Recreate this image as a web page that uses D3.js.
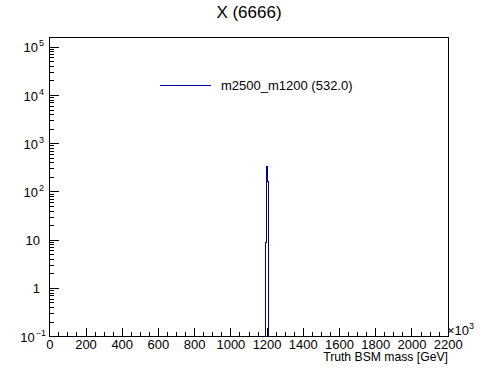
<!DOCTYPE html>
<html><head><meta charset="utf-8">
<script src="https://cdn.jsdelivr.net/npm/d3@7"></script>
<style>
html,body{margin:0;padding:0;background:#fff;}
svg{display:block;font-family:"Liberation Sans",Arial,Helvetica,sans-serif;}
</style></head>
<body><svg id="c" width="498" height="374"></svg>
<script>
// ---- data ----
const chartTitle = "X (6666)";
const seriesName = "m2500_m1200 (532.0)";
const xTitle = "Truth BSM mass [GeV]";
const binWidth = 5;
const binLow = [1190, 1195, 1200, 1205];
const counts = [9, 335, 164, 24];
const xMajorTicks = [0,200,400,600,800,1000,1200,1400,1600,1800,2000,2200];
const yDecadeTicks = [0.1, 1, 10, 100, 1000, 10000, 100000];
const yTickBase = ["10", "1", "10", "10", "10", "10", "10"];
const yTickExp  = ["\u22121", "", "", "2", "3", "4", "5"];

// ---- layout ----
const L = 49.8, R = 448.2, T = 37.4, B = 336.6;
const lineColor = "#00009c";
const svg = d3.select("#c");
const x = d3.scaleLinear().domain([0, 2200]).range([L, R]);
const y = d3.scaleLog().domain([0.1, Math.pow(10, 5.205)]).range([B, T]);
const px = v => Math.round(v - 0.5) + 0.5;

// frame
svg.append("rect").attr("x", 49.5).attr("y", 37.5).attr("width", 399).attr("height", 299)
  .attr("fill", "none").attr("stroke", "#000").attr("stroke-width", 1).attr("shape-rendering", "crispEdges");

// x ticks
const xMinor = d3.range(0, 2200 + 1, 50);
const gx = svg.append("g").attr("shape-rendering", "crispEdges");
xMinor.forEach(v => {
  const major = v % 200 === 0;
  gx.append("line").attr("x1", px(x(v))).attr("x2", px(x(v)))
    .attr("y1", 336.5).attr("y2", 336.5 - (major ? 9 : 4.5))
    .attr("stroke", "#000").attr("stroke-width", 1);
});
xMajorTicks.forEach(v => {
  svg.append("text").attr("x", x(v)).attr("y", 348.5).attr("text-anchor", "middle")
    .attr("font-size", 13).text(v);
});
// x10^3 exponent
const ex = svg.append("text").attr("x", 447).attr("y", 335).attr("font-size", 13);
ex.append("tspan").text("\u00d710");
ex.append("tspan").attr("font-size", 9).attr("dy", -6).text("3");

// x title
svg.append("text").attr("x", 448).attr("y", 361).attr("text-anchor", "end")
  .attr("font-size", 12.2).text(xTitle);

// y ticks
const gy = svg.append("g").attr("shape-rendering", "crispEdges");
const [yLo, yHi] = y.domain();
for (let e = -1; e <= 5; e++) {
  for (let m = 1; m <= 9; m++) {
    const v = m * Math.pow(10, e);
    if (v < yLo || v > yHi) continue;
    const yy = px(y(v));
    gy.append("line").attr("x1", 49.5).attr("x2", 49.5 + (m === 1 ? 9 : 4.5))
      .attr("y1", yy).attr("y2", yy).attr("stroke", "#000").attr("stroke-width", 1);
  }
}
yDecadeTicks.forEach((v, i) => {
  const t = svg.append("text").attr("y", y(v) + 5).attr("font-size", 13)
    .attr("text-anchor", "end");
  if (yTickExp[i] === "") {
    t.attr("x", 40).text(yTickBase[i]);
  } else {
    t.attr("x", yTickExp[i].length > 1 ? 46 : 44);
    t.append("tspan").text(yTickBase[i]);
    t.append("tspan").attr("font-size", 9).attr("dy", -6).attr("dx", 1).text(yTickExp[i]);
  }
});

// histogram
const pts = [[x(binLow[0]), B]];
binLow.forEach((b, i) => {
  pts.push([x(b), y(counts[i])]);
  pts.push([x(b + binWidth), y(counts[i])]);
});
pts.push([x(binLow[binLow.length - 1] + binWidth), B]);
svg.append("path").attr("d", d3.line()(pts)).attr("fill", "none")
  .attr("stroke", lineColor).attr("stroke-width", 1).attr("shape-rendering", "crispEdges");

// legend
svg.append("line").attr("x1", 160).attr("x2", 211).attr("y1", 85.5).attr("y2", 85.5)
  .attr("stroke", lineColor).attr("stroke-width", 1).attr("shape-rendering", "crispEdges");
svg.append("text").attr("x", 221).attr("y", 90).attr("font-size", 13).text(seriesName);

// title
svg.append("text").attr("x", 249).attr("y", 18).attr("text-anchor", "middle")
  .attr("font-size", 17).text(chartTitle);
</script></body></html>
